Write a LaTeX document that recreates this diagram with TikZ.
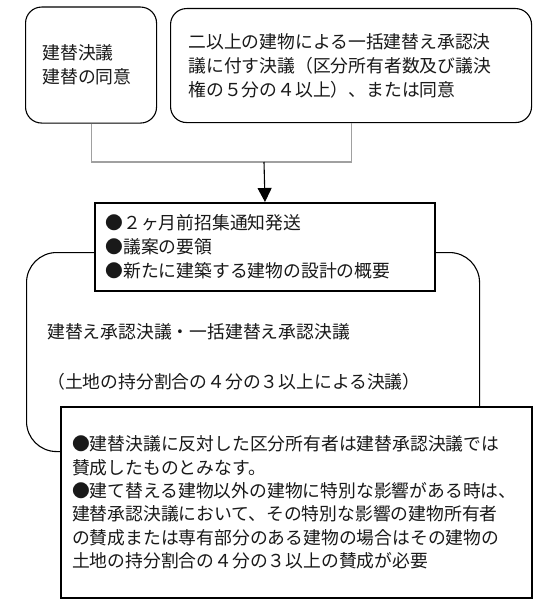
\documentclass[tikz,border=0pt]{standalone}
\usepackage{fontspec}
\setmainfont{Noto Sans CJK JP}
\usetikzlibrary{arrows.meta}
\definecolor{linegray}{RGB}{160,160,160}
\definecolor{txt}{RGB}{25,25,25}
\begin{document}
\begin{tikzpicture}[x=1pt,y=-1pt,
  every node/.style={font=\fontsize{17.8}{24}\selectfont, text=txt},
  rbox/.style={draw=black, line width=1.1pt, rounded corners=16pt, fill=white, align=left, anchor=north west, inner ysep=0pt},
  sbox/.style={draw=black, line width=2pt, fill=white, align=left, anchor=north west, inner ysep=0pt},
  bigbox/.style={draw=black, line width=1.1pt, rounded corners=30pt, anchor=north west, inner sep=0pt},
  conn/.style={draw=linegray, line width=1.1pt},
  arr/.style={draw=black, line width=1.1pt, -{Triangle[width=14pt,length=14pt]}},
]
\useasboundingbox (0,0) rectangle (537,602);
\fill[white] (0,0) rectangle (537,602);

% top boxes
\node[rbox, minimum width=131pt, minimum height=116pt, text width=97pt, inner xsep=17pt] (b1) at (25,6.5)
  {建替決議\\建替の同意};
\node[rbox, minimum width=361pt, minimum height=114pt, text width=325pt, inner xsep=18pt] (b2) at (170,8)
  {二以上の建物による一括建替え承認決\\議に付す決議（区分所有者数及び議決\\権の５分の４以上）、または同意};

% big rounded box
\node[bigbox, minimum width=453pt, minimum height=199pt] (big) at (26,252) {};
\node[align=left, anchor=west, font=\fontsize{17.8}{50}\selectfont, inner sep=0pt] (bigt) at (47,357)
  {建替え承認決議・一括建替え承認決議\\（土地の持分割合の４分の３以上による決議）};

% notice box
\node[sbox, minimum width=340pt, minimum height=88pt, text width=319pt, inner xsep=10.5pt] (b3) at (94,202)
  {●２ヶ月前招集通知発送\\●議案の要領\\●新たに建築する建物の設計の概要};

% bottom box
\node[sbox, minimum width=471pt, minimum height=191pt, text width=449pt, inner xsep=11pt,
      font=\fontsize{17.8}{23.3}\selectfont] (b4) at (60,406)
  {●建替決議に反対した区分所有者は建替承認決議では\\賛成したものとみなす。\\●建て替える建物以外の建物に特別な影響がある時は、\\建替承認決議において、その特別な影響の建物所有者\\の賛成または専有部分のある建物の場合はその建物の\\土地の持分割合の４分の３以上の賛成が必要};

% connectors
\coordinate (j) at (264,162);
\draw[conn] (b1.south) |- (j) -| (b2.south);
\draw[arr] (j) -- (b3.north);
\end{tikzpicture}
\end{document}
